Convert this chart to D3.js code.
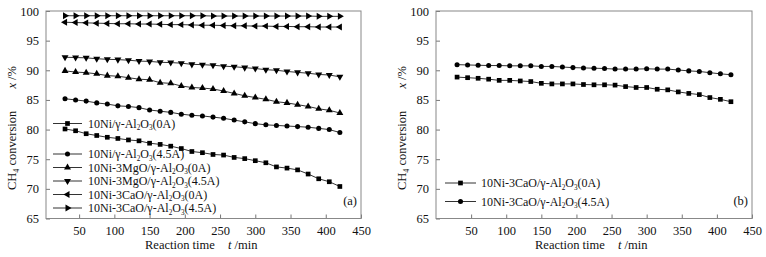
<!DOCTYPE html>
<html><head><meta charset="utf-8">
<script src="https://cdn.jsdelivr.net/npm/d3@7"></script>
<style>body{margin:0;background:#fff}svg{display:block}text{font-family:"Liberation Serif","Times New Roman",serif;fill:#111}</style>
</head><body><svg id="c" width="766" height="257"></svg>
<script>
const times = [30,45,60,75,90,105,120,135,150,165,180,195,210,225,240,255,270,285,300,315,330,345,360,375,390,405,420];
const yTicks = [65,70,75,80,85,90,95,100];
const xTicks = [50,100,150,200,250,300,350,400,450];

const ni0A   = [80.1,79.8,79.3,79.0,78.7,78.5,78.25,78.1,77.7,77.5,77.2,76.8,76.3,76.1,75.8,75.7,75.3,75.1,74.75,74.4,73.7,73.5,73.2,72.5,71.7,71.2,70.4];
const ni45A  = [85.2,85.0,84.8,84.5,84.3,84.0,83.9,83.7,83.3,83.1,82.9,82.6,82.4,82.3,82.1,81.9,81.6,81.3,81.0,80.8,80.7,80.6,80.5,80.4,80.2,80.0,79.5];
const mg0A   = [89.9,89.7,89.6,89.4,89.1,89.0,88.75,88.5,88.4,87.9,87.8,87.35,87.1,87.0,86.85,86.5,86.1,85.7,85.4,85.1,84.7,84.5,84.2,83.9,83.5,83.25,82.8];
const mg45A  = [92.2,92.15,92.1,91.95,91.85,91.8,91.7,91.55,91.5,91.35,91.3,91.2,91.0,90.95,90.85,90.7,90.6,90.45,90.3,90.1,90.0,89.8,89.65,89.5,89.3,89.2,88.9];
const ca0A   = [98.1,98.05,98.0,97.95,97.9,97.85,97.85,97.8,97.8,97.75,97.7,97.7,97.65,97.6,97.6,97.55,97.5,97.5,97.45,97.45,97.4,97.4,97.35,97.35,97.3,97.3,97.3];
const ca45A  = [99.2,99.2,99.2,99.2,99.2,99.2,99.2,99.2,99.2,99.2,99.2,99.2,99.2,99.2,99.15,99.15,99.15,99.15,99.15,99.15,99.15,99.15,99.15,99.15,99.1,99.1,99.1];
const bCa0A  = [88.85,88.75,88.65,88.5,88.3,88.3,88.2,88.1,87.8,87.7,87.7,87.7,87.6,87.55,87.55,87.5,87.25,87.1,87.1,86.8,86.7,86.35,86.1,85.9,85.4,85.1,84.7];
const bCa45A = [90.95,90.9,90.85,90.8,90.8,90.75,90.75,90.75,90.65,90.65,90.55,90.45,90.4,90.35,90.3,90.2,90.2,90.2,90.25,90.2,90.2,90.05,89.9,89.8,89.6,89.4,89.25];

const labelsA = [
  [["10Ni/γ-Al",0],["2",1],["O",0],["3",1],["(0A)",0]],
  [["10Ni/γ-Al",0],["2",1],["O",0],["3",1],["(4.5A)",0]],
  [["10Ni-3MgO/γ-Al",0],["2",1],["O",0],["3",1],["(0A)",0]],
  [["10Ni-3MgO/γ-Al",0],["2",1],["O",0],["3",1],["(4.5A)",0]],
  [["10Ni-3CaO/γ-Al",0],["2",1],["O",0],["3",1],["(0A)",0]],
  [["10Ni-3CaO/γ-Al",0],["2",1],["O",0],["3",1],["(4.5A)",0]]
];
const labelsB = [labelsA[4], labelsA[5]];

const svg = d3.select("#c");
const y = d3.scaleLinear().domain([65,100]).range([218.5,11]);

const sym = {
  square:{type:d3.symbolSquare,size:22,rot:0},
  circle:{type:d3.symbolCircle,size:20,rot:0},
  up:{type:d3.symbolTriangle,size:21,rot:0},
  down:{type:d3.symbolTriangle,size:21,rot:180},
  left:{type:d3.symbolTriangle,size:21,rot:-90},
  right:{type:d3.symbolTriangle,size:21,rot:90}
};
function marker(g,kind,cx,cy){
  const s=sym[kind];
  g.append("path").attr("d",d3.symbol().type(s.type).size(s.size)())
   .attr("transform",`translate(${cx},${cy}) rotate(${s.rot})`).attr("fill","#000");
}
function richText(g,x,yy,parts,size){
  const t=g.append("text").attr("x",x).attr("y",yy).attr("font-size",size);
  parts.forEach(([s,sub],i)=>{
    const ts=t.append("tspan").text(s);
    if(sub) ts.attr("font-size",size*0.6).attr("dy",2.5);
    else if(i>0 && parts[i-1][1]) ts.attr("dy",-2.5);
  });
  return t;
}

function panel(x0,x1,domainX,series,legend,tag){
  const x=d3.scaleLinear().domain(domainX).range([x0,x1]);
  const g=svg.append("g");
  const ax=g.append("g").attr("transform",`translate(0,${y(65)})`)
    .call(d3.axisBottom(x).tickValues(xTicks).tickSize(-4).tickPadding(8).tickFormat(d3.format("d")));
  ax.select(".domain").remove();
  ax.selectAll("line").attr("stroke","#777");
  ax.selectAll("text").attr("font-size",12.5).attr("fill","#111");
  const ay=g.append("g").attr("transform",`translate(${x0},0)`)
    .call(d3.axisLeft(y).tickValues(yTicks).tickSize(-4).tickPadding(7).tickFormat(d3.format("d")));
  ay.select(".domain").remove();
  ay.selectAll("line").attr("stroke","#777");
  ay.selectAll("text").attr("font-size",12.5).attr("fill","#111");
  g.append("rect").attr("x",x0).attr("y",y(100)).attr("width",x1-x0).attr("height",y(65)-y(100))
    .attr("fill","none").attr("stroke","#888").attr("stroke-width",1);
  const line=d3.line().x((d,i)=>x(times[i])).y(d=>y(d));
  series.forEach(s=>{
    g.append("path").attr("d",line(s.v)).attr("fill","none").attr("stroke","#333").attr("stroke-width",1);
    s.v.forEach((v,i)=>marker(g,s.m,x(times[i]),y(v)));
  });
  legend.rows.forEach((r,i)=>{
    const s=series[i];
    g.append("line").attr("x1",legend.lx0).attr("x2",legend.lx1).attr("y1",r).attr("y2",r).attr("stroke","#333").attr("stroke-width",1);
    marker(g,s.m,(legend.lx0+legend.lx1)/2,r);
    richText(g,legend.tx,r+4,legend.labels[i],12);
  });
  g.append("text").attr("x",x1-4).attr("y",205).attr("text-anchor","end").attr("font-size",12.5).text(tag);
  const yl=g.append("text").attr("transform","rotate(-90)").attr("x",-190).attr("y",x0-30).attr("font-size",12.5);
  yl.append("tspan").text("CH");
  yl.append("tspan").text("4").attr("font-size",8).attr("dy",3);
  yl.append("tspan").text(" conversion").attr("dy",-3);
  const yl2=g.append("text").attr("transform","rotate(-90)").attr("x",-66).attr("y",x0-30).attr("text-anchor","end").attr("font-size",12.5);
  yl2.append("tspan").text("x").attr("font-style","italic");
  yl2.append("tspan").text(" /%");
  g.append("text").attr("x",x0+99).attr("y",249).attr("font-size",12.5).text("Reaction time");
  const xl=g.append("text").attr("x",x0+182).attr("y",249).attr("font-size",12.5);
  xl.append("tspan").text("t").attr("font-style","italic");
  xl.append("tspan").text(" /min");
}

panel(46,361,[3,450],[
  {v:ni0A,m:"square"},{v:ni45A,m:"circle"},{v:mg0A,m:"up"},{v:mg45A,m:"down"},{v:ca0A,m:"left"},{v:ca45A,m:"right"}
],{rows:[123.5,154,167.5,181,194.5,208],lx0:53,lx1:82,tx:88,labels:labelsA},"(a)");

panel(436,752,[0,450],[
  {v:bCa0A,m:"square"},{v:bCa45A,m:"circle"}
],{rows:[183,201.5],lx0:445,lx1:476,tx:481,labels:labelsB},"(b)");
</script></body></html>
